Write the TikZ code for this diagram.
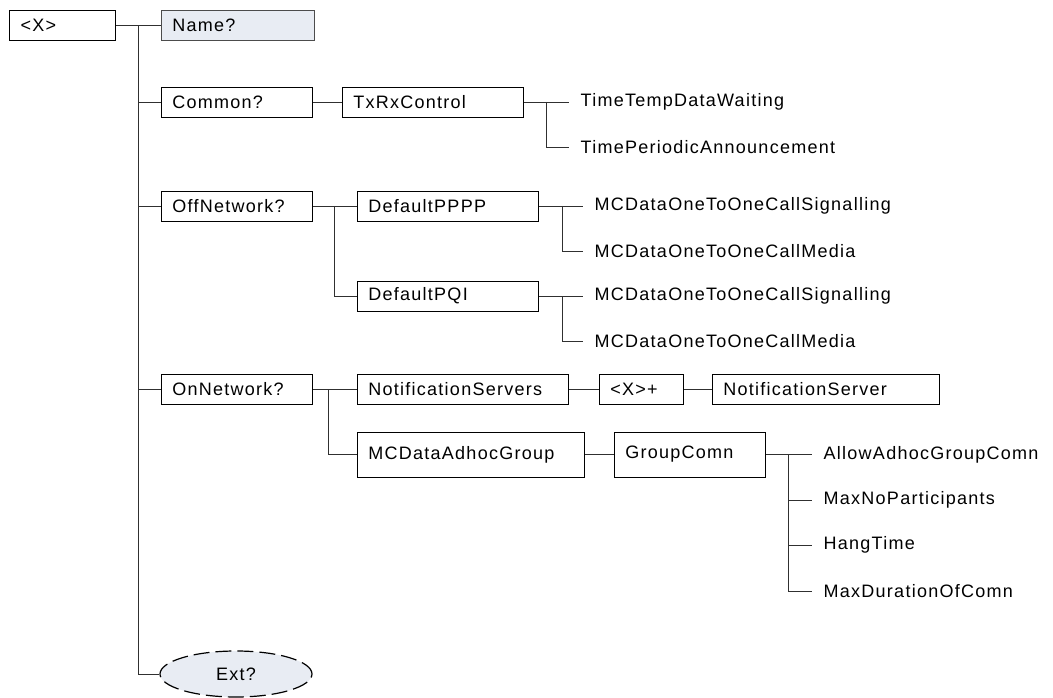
\documentclass[tikz,border=0pt]{standalone}
\usepackage{fontspec}
\setmainfont{Liberation Sans}[LetterSpace=7]
\usetikzlibrary{shapes.geometric}
\definecolor{nodefill}{HTML}{E8ECF3}
\definecolor{linecol}{HTML}{303030}
\begin{document}
\begin{tikzpicture}[x=1pt,y=-1pt,
  font=\fontsize{18pt}{21pt}\selectfont,
  box/.style={draw=black, line width=0.8pt, inner xsep=11pt, inner ysep=0pt, minimum height=30pt, align=left, anchor=west},
  leaf/.style={anchor=west, inner xsep=11.5pt, inner ysep=0pt},
  conn/.style={draw=linecol, line width=0.8pt}]
\useasboundingbox (0,0) rectangle (1053,698);
% nodes
\node[box, line width=1.3pt, text width=84pt] (x) at (9,25.5) {<X>};
\node[box, draw=black!70, fill=nodefill, text width=131pt] (name) at (161,25.5) {Name?};
\node[box, text width=129pt] (common) at (161,102) {Common?};
\node[box, text width=159pt] (txrx) at (342,102) {TxRxControl};
\node[leaf] (ttdw) at (569,102) {TimeTempDataWaiting};
\node[leaf] (tpa) at (569,147) {TimePeriodicAnnouncement};
\node[box, text width=129pt] (off) at (161,206) {OffNetwork?};
\node[box, text width=159pt] (pppp) at (357,206) {DefaultPPPP};
\node[leaf] (s1) at (583,206) {MCDataOneToOneCallSignalling};
\node[leaf] (m1) at (583,251) {MCDataOneToOneCallMedia};
\node[box, text width=159pt] (pqi) at (357,296) {DefaultPQI};
\node[leaf] (s2) at (583,296) {MCDataOneToOneCallSignalling};
\node[leaf] (m2) at (583,341) {MCDataOneToOneCallMedia};
\node[box, text width=129pt] (on) at (161,389) {OnNetwork?};
\node[box, text width=189pt] (ns) at (357,389) {NotificationServers};
\node[box, text width=62pt] (xp) at (599,389) {<X>+};
\node[box, text width=205pt] (nsv) at (712,389) {NotificationServer};
\node[box, minimum height=45pt, text width=205pt] (adhoc) at (357,454.5) {MCDataAdhocGroup};
\node[box, minimum height=45pt, text width=129pt] (gc) at (614,454.5) {GroupComn};
\node[leaf] (allow) at (812,454.5) {AllowAdhocGroupComn};
\node[leaf] (maxno) at (812,500) {MaxNoParticipants};
\node[leaf] (hang) at (812,545) {HangTime};
\node[leaf] (maxdur) at (812,591) {MaxDurationOfComn};
\node[ellipse, draw=black, line width=1.2pt, dash pattern=on 16pt off 6pt, fill=nodefill,
      minimum width=152pt, minimum height=46pt, inner sep=0pt] (ext) at (236,674) {Ext?};
% branch points
\coordinate (t0) at (138,25.5);
\coordinate (b1) at (546,102);
\coordinate (b2) at (334,206);
\coordinate (b3) at (562,206);
\coordinate (b4) at (562,296);
\coordinate (b5) at (328,389);
\coordinate (b6) at (788,454.5);
% connectors
\draw[conn] (x.east) -- (name.west);
\draw[conn] (t0) |- (ext.west);
\draw[conn] (t0) |- (common.west);
\draw[conn] (t0) |- (off.west);
\draw[conn] (t0) |- (on.west);
\draw[conn] (common.east) -- (txrx.west);
\draw[conn] (txrx.east) -- (ttdw.west);
\draw[conn] (b1) |- (tpa.west);
\draw[conn] (off.east) -- (pppp.west);
\draw[conn] (b2) |- (pqi.west);
\draw[conn] (pppp.east) -- (s1.west);
\draw[conn] (b3) |- (m1.west);
\draw[conn] (pqi.east) -- (s2.west);
\draw[conn] (b4) |- (m2.west);
\draw[conn] (on.east) -- (ns.west);
\draw[conn] (b5) |- (adhoc.west);
\draw[conn] (ns.east) -- (xp.west);
\draw[conn] (xp.east) -- (nsv.west);
\draw[conn] (adhoc.east) -- (gc.west);
\draw[conn] (gc.east) -- (allow.west);
\draw[conn] (b6) |- (maxno.west);
\draw[conn] (b6) |- (hang.west);
\draw[conn] (b6) |- (maxdur.west);
\end{tikzpicture}
\end{document}
